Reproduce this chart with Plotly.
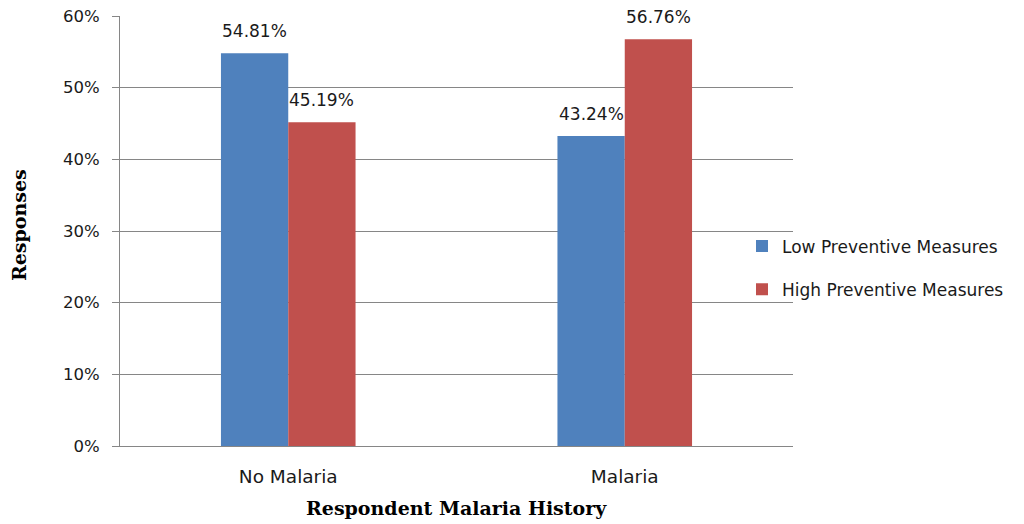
import plotly.graph_objects as go

categories = ["No Malaria", "Malaria"]
series_names = ["Low Preventive Measures", "High Preventive Measures"]
low_values = [54.81, 43.24]
high_values = [45.19, 56.76]
colors = ["#4F81BD", "#C0504D"]
y_ticks = [0, 10, 20, 30, 40, 50, 60]
y_tick_text = [f"{t}%" for t in y_ticks]

text_family = "DejaVu Sans"
label_font = dict(family=text_family, size=17, color="#1a1a1a")
ytick_font = dict(family=text_family, size=16.5, color="#1a1a1a")
xtick_font = dict(family=text_family, size=18.5, color="#1a1a1a")
title_font = dict(family="DejaVu Serif", size=19, color="#000000")

fig = go.Figure()
all_values = [low_values, high_values]
for i, (name, vals) in enumerate(zip(series_names, all_values)):
    fig.add_trace(go.Bar(
        x=categories, y=vals, name=name,
        marker=dict(color=colors[i], line=dict(width=0)),
        legendgroup=name,
    ))

bargap = 0.6
bar_w = (1 - bargap) / len(series_names)
annotations = []
for i, vals in enumerate(all_values):
    offset = -(1 - bargap) / 2 + bar_w * (i + 0.5)
    for ci, v in enumerate(vals):
        annotations.append(dict(
            x=ci + offset, y=v, xref="x", yref="y",
            text=f"{v:.2f}%", showarrow=False,
            yanchor="bottom", yshift=10,
            font=label_font,
        ))

annotations.append(dict(
    text="<b>Respondent Malaria History</b>", xref="paper", yref="paper",
    x=0.50, y=-0.144, xanchor="center", yanchor="middle",
    showarrow=False, font=title_font,
))
annotations.append(dict(
    text="<b>Responses</b>", xref="paper", yref="paper",
    x=-0.150, y=0.514, xanchor="center", yanchor="middle",
    textangle=-90, showarrow=False, font=title_font,
))

fig.update_layout(
    width=1024, height=524,
    margin=dict(l=120, r=231, t=16, b=78, autoexpand=False),
    paper_bgcolor="white", plot_bgcolor="white",
    barmode="group", bargap=bargap, bargroupgap=0,
    annotations=annotations,
    legend=dict(
        xref="container", yref="container",
        x=742 / 1024, xanchor="left", y=256 / 524, yanchor="middle",
        font=dict(family=text_family, size=17, color="#1a1a1a"),
        tracegroupgap=18, traceorder="grouped",
        bgcolor="rgba(0,0,0,0)",
        itemwidth=30,
    ),
    xaxis=dict(
        type="category", automargin=False,
        showline=True, linecolor="#868686", linewidth=1,
        showgrid=False, ticks="",
        tickfont=xtick_font,
        ticklabelstandoff=14,
    ),
    yaxis=dict(
        automargin=False,
        range=[0, 60], tickmode="array", tickvals=y_ticks, ticktext=y_tick_text,
        showline=True, linecolor="#868686", linewidth=1,
        showgrid=True, gridcolor="#868686", gridwidth=1,
        zeroline=False,
        ticks="outside", ticklen=7, tickcolor="#868686",
        tickfont=ytick_font,
        ticklabelstandoff=9,
    ),
)

fig.write_html("out.html", config={"displayModeBar": False},
               post_script="document.body.style.margin='0px';")
